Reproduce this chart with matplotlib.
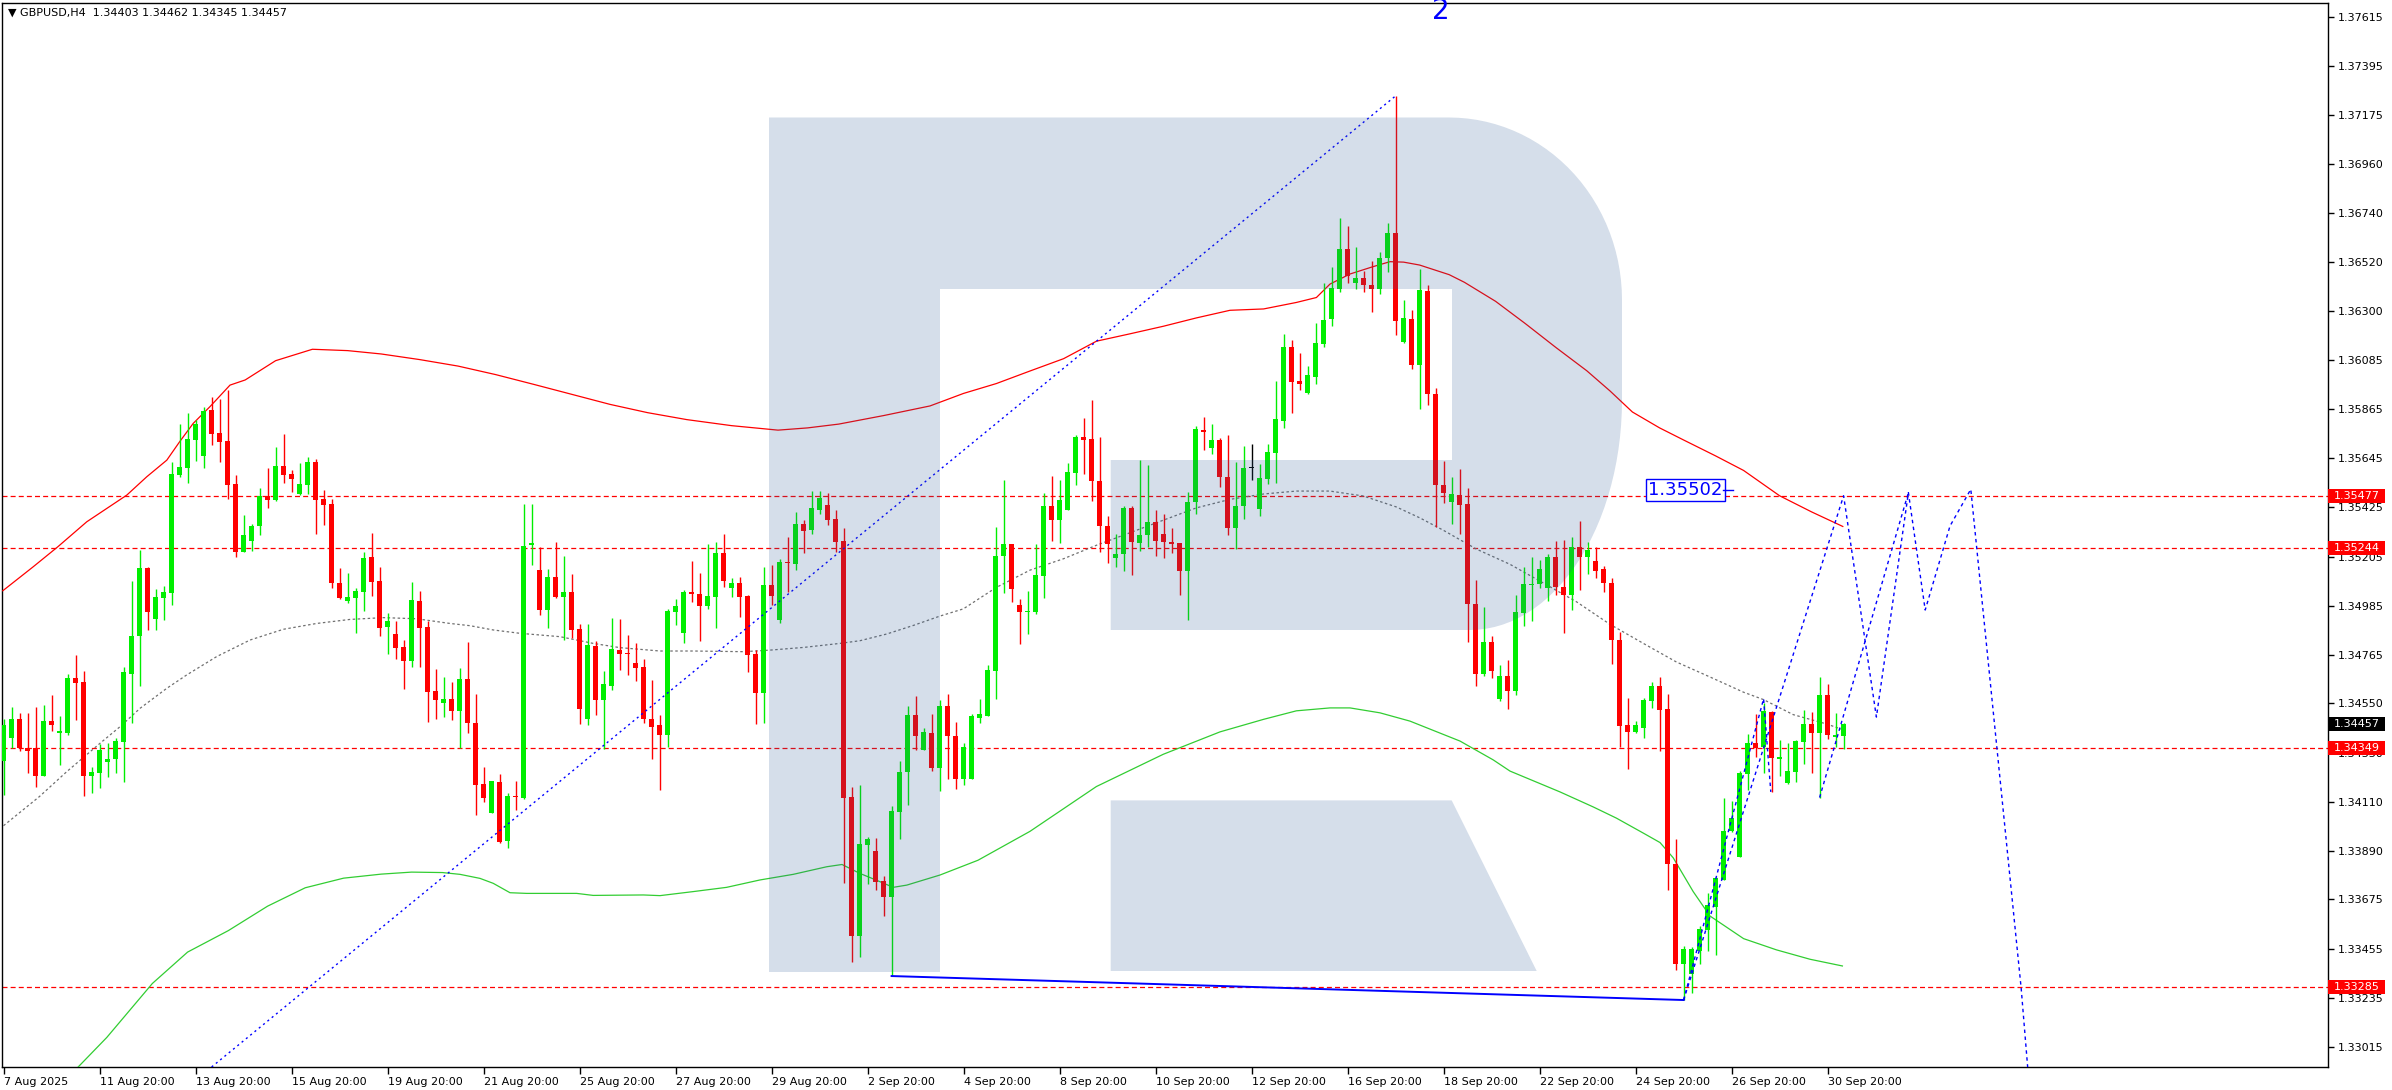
import numpy as np
import matplotlib.pyplot as plt
import matplotlib.transforms as mtransforms
from matplotlib.patches import Polygon, Rectangle

plt.rcParams['font.family'] = ['DejaVu Sans']

W, H = 2392, 1090

# ---- GBPUSD H4 candles (open, high, low, close) ----
opens = [1.34294, 1.34397, 1.34480, 1.34351, 1.34349, 1.34227, 1.34471, 1.34416, 1.34419, 1.34663,
         1.34645, 1.34227, 1.34241, 1.34290, 1.34300, 1.34379, 1.34683, 1.34851, 1.35154, 1.34927,
         1.35022, 1.35044, 1.35571, 1.35602, 1.35726, 1.35654, 1.35860, 1.35759, 1.35721, 1.35529,
         1.35226, 1.35275, 1.35343, 1.35477, 1.35458, 1.35610, 1.35574, 1.35486, 1.35525, 1.35628,
         1.35464, 1.35440, 1.35087, 1.35009, 1.35020, 1.35047, 1.35204, 1.35096, 1.34891, 1.34860,
         1.34802, 1.34741, 1.35007, 1.34891, 1.34605, 1.34553, 1.34570, 1.34518, 1.34659, 1.34462,
         1.34190, 1.34059, 1.34199, 1.33937, 1.34137, 1.34129, 1.35256, 1.35145, 1.34968, 1.35114,
         1.35026, 1.35047, 1.34882, 1.34482, 1.34806, 1.34567, 1.34629, 1.34788, 1.34775, 1.34730,
         1.34712, 1.34480, 1.34453, 1.34410, 1.34959, 1.34864, 1.35047, 1.35038, 1.34986, 1.35026,
         1.35221, 1.35066, 1.35087, 1.35029, 1.34772, 1.34598, 1.35078, 1.34924, 1.35181, 1.35174,
         1.35352, 1.35325, 1.35415, 1.35437, 1.35373, 1.35275, 1.34132, 1.33513, 1.33919, 1.33891,
         1.33757, 1.33687, 1.34067, 1.34244, 1.34498, 1.34343, 1.34418, 1.34263, 1.34539, 1.34406,
         1.34212, 1.34212, 1.34483, 1.34494, 1.34694, 1.35207, 1.35261, 1.34990, 1.34956, 1.34956,
         1.35119, 1.35432, 1.35370, 1.35414, 1.35578, 1.35738, 1.35729, 1.35543, 1.35341, 1.35201,
         1.35216, 1.35423, 1.35267, 1.35301, 1.35358, 1.35305, 1.35272, 1.35265, 1.35141, 1.35447,
         1.35772, 1.35689, 1.35725, 1.35560, 1.35334, 1.35430, 1.35601, 1.35416, 1.35552, 1.35669,
         1.35812, 1.36142, 1.35989, 1.35936, 1.36009, 1.36156, 1.36267, 1.36400, 1.36578, 1.36429,
         1.36451, 1.36420, 1.36398, 1.36538, 1.36649, 1.36162, 1.36267, 1.36060, 1.36390, 1.35930,
         1.35524, 1.35447, 1.35482, 1.35440, 1.34992, 1.34683, 1.34822, 1.34572, 1.34674, 1.34604,
         1.34955, 1.35079, 1.35081, 1.35067, 1.35203, 1.35069, 1.35035, 1.35247, 1.35203, 1.35185,
         1.35148, 1.35087, 1.34832, 1.34454, 1.34424, 1.34441, 1.34563, 1.34627, 1.34525, 1.33833,
         1.33388, 1.33342, 1.33446, 1.33539, 1.33643, 1.33764, 1.33979, 1.33866, 1.34233, 1.34374,
         1.34357, 1.34511, 1.34303, 1.34197, 1.34244, 1.34379, 1.34458, 1.34419, 1.34587, 1.34399,
         1.34403]
highs = [1.34479, 1.34534, 1.34509, 1.34509, 1.34534, 1.34543, 1.34587, 1.34494, 1.34681, 1.34766,
         1.34695, 1.34268, 1.34367, 1.34372, 1.34394, 1.34714, 1.35096, 1.35235, 1.35160, 1.35061,
         1.35074, 1.35628, 1.35799, 1.35846, 1.35815, 1.35873, 1.35919, 1.35909, 1.35949, 1.35568,
         1.35391, 1.35351, 1.35510, 1.35601, 1.35695, 1.35754, 1.35592, 1.35623, 1.35650, 1.35642,
         1.35503, 1.35462, 1.35154, 1.35134, 1.35065, 1.35226, 1.35311, 1.35159, 1.34955, 1.34919,
         1.34833, 1.35093, 1.35053, 1.34919, 1.34705, 1.34669, 1.34647, 1.34710, 1.34826, 1.34593,
         1.34267, 1.34203, 1.34235, 1.34148, 1.34203, 1.35440, 1.35440, 1.35247, 1.35150, 1.35270,
         1.35208, 1.35128, 1.34904, 1.34904, 1.34830, 1.34695, 1.34931, 1.34927, 1.34855, 1.34820,
         1.34748, 1.34654, 1.34498, 1.34971, 1.35016, 1.35056, 1.35187, 1.35132, 1.35263, 1.35272,
         1.35308, 1.35110, 1.35116, 1.35035, 1.34788, 1.35159, 1.35168, 1.35194, 1.35293, 1.35404,
         1.35368, 1.35498, 1.35498, 1.35489, 1.35412, 1.35333, 1.34178, 1.34187, 1.33954, 1.33949,
         1.33781, 1.34092, 1.34293, 1.34538, 1.34583, 1.34441, 1.34502, 1.34565, 1.34590, 1.34468,
         1.34372, 1.34501, 1.34570, 1.34721, 1.35336, 1.35547, 1.35261, 1.35016, 1.35052, 1.35261,
         1.35490, 1.35565, 1.35549, 1.35623, 1.35747, 1.35825, 1.35905, 1.35738, 1.35387, 1.35305,
         1.35432, 1.35432, 1.35636, 1.35614, 1.35414, 1.35394, 1.35334, 1.35265, 1.35492, 1.35787,
         1.35829, 1.35796, 1.35734, 1.35747, 1.35627, 1.35698, 1.35707, 1.35620, 1.35709, 1.35989,
         1.36198, 1.36174, 1.36116, 1.36056, 1.36249, 1.36429, 1.36498, 1.36718, 1.36682, 1.36587,
         1.36482, 1.36524, 1.36564, 1.36695, 1.37262, 1.36353, 1.36307, 1.36489, 1.36420, 1.35960,
         1.35630, 1.35561, 1.35596, 1.35511, 1.35101, 1.34982, 1.34852, 1.34720, 1.34743, 1.35035,
         1.35158, 1.35203, 1.35192, 1.35215, 1.35277, 1.35281, 1.35292, 1.35366, 1.35269, 1.35250,
         1.35163, 1.35111, 1.34871, 1.34575, 1.34473, 1.34573, 1.34647, 1.34668, 1.34590, 1.33947,
         1.33467, 1.33462, 1.33556, 1.33702, 1.33777, 1.34128, 1.34115, 1.34248, 1.34414, 1.34503,
         1.34550, 1.34516, 1.34387, 1.34375, 1.34387, 1.34521, 1.34513, 1.34668, 1.34637, 1.34506,
         1.34462]
lows = [1.34140, 1.34349, 1.34339, 1.34241, 1.34178, 1.34227, 1.34427, 1.34275, 1.34407, 1.34476,
        1.34135, 1.34150, 1.34174, 1.34223, 1.34241, 1.34201, 1.34461, 1.34629, 1.34879, 1.34879,
        1.34924, 1.34989, 1.35559, 1.35535, 1.35634, 1.35601, 1.35705, 1.35629, 1.35461, 1.35205,
        1.35226, 1.35232, 1.35302, 1.35424, 1.35454, 1.35535, 1.35494, 1.35480, 1.35485, 1.35308,
        1.35348, 1.35067, 1.35015, 1.34997, 1.34866, 1.34964, 1.35031, 1.34851, 1.34772, 1.34747,
        1.34616, 1.34714, 1.34714, 1.34468, 1.34480, 1.34491, 1.34476, 1.34349, 1.34416, 1.34053,
        1.34111, 1.34059, 1.33925, 1.33903, 1.34074, 1.34122, 1.35169, 1.34946, 1.34888, 1.35022,
        1.34834, 1.34843, 1.34459, 1.34455, 1.34500, 1.34345, 1.34611, 1.34699, 1.34677, 1.34651,
        1.34464, 1.34303, 1.34165, 1.34357, 1.34901, 1.34821, 1.35004, 1.34830, 1.34973, 1.34888,
        1.35070, 1.35026, 1.34937, 1.34691, 1.34459, 1.34464, 1.34991, 1.34910, 1.35049, 1.35147,
        1.35223, 1.35308, 1.35397, 1.35348, 1.35227, 1.33750, 1.33397, 1.33419, 1.33745, 1.33718,
        1.33602, 1.33333, 1.33946, 1.34098, 1.34343, 1.34343, 1.34250, 1.34160, 1.34212, 1.34168,
        1.34184, 1.34212, 1.34463, 1.34494, 1.34572, 1.35045, 1.35005, 1.34816, 1.34861, 1.34950,
        1.35019, 1.35276, 1.35267, 1.35414, 1.35527, 1.35576, 1.35452, 1.35225, 1.35179, 1.35159,
        1.35141, 1.35125, 1.35232, 1.35250, 1.35210, 1.35199, 1.35221, 1.35032, 1.34923, 1.35394,
        1.35683, 1.35665, 1.35518, 1.35303, 1.35238, 1.35374, 1.35549, 1.35387, 1.35529, 1.35532,
        1.35778, 1.35845, 1.35947, 1.35931, 1.35976, 1.36140, 1.36236, 1.36385, 1.36425, 1.36400,
        1.36387, 1.36296, 1.36378, 1.36478, 1.36196, 1.36158, 1.36045, 1.35863, 1.35880, 1.35339,
        1.35444, 1.35353, 1.35307, 1.34822, 1.34626, 1.34671, 1.34664, 1.34560, 1.34526, 1.34587,
        1.34896, 1.34918, 1.35067, 1.35009, 1.35032, 1.34866, 1.34965, 1.35057, 1.35129, 1.35109,
        1.35047, 1.34728, 1.34357, 1.34259, 1.34419, 1.34395, 1.34531, 1.34338, 1.33719, 1.33358,
        1.33226, 1.33257, 1.33388, 1.33446, 1.33428, 1.33764, 1.33976, 1.33866, 1.34164, 1.34310,
        1.34239, 1.34155, 1.34228, 1.34192, 1.34201, 1.34281, 1.34239, 1.34130, 1.34390, 1.34357,
        1.34345]
closes = [1.34454, 1.34480, 1.34349, 1.34339, 1.34227, 1.34471, 1.34455, 1.34427, 1.34663, 1.34643,
          1.34227, 1.34244, 1.34342, 1.34302, 1.34382, 1.34690, 1.34851, 1.35154, 1.34959, 1.35023,
          1.35047, 1.35574, 1.35604, 1.35729, 1.35799, 1.35855, 1.35754, 1.35718, 1.35526, 1.35226,
          1.35300, 1.35343, 1.35477, 1.35458, 1.35610, 1.35571, 1.35553, 1.35528, 1.35628, 1.35458,
          1.35437, 1.35089, 1.35020, 1.35025, 1.35052, 1.35199, 1.35093, 1.34888, 1.34918, 1.34799,
          1.34741, 1.35012, 1.34888, 1.34602, 1.34567, 1.34570, 1.34518, 1.34659, 1.34461, 1.34187,
          1.34129, 1.34203, 1.33933, 1.34137, 1.34131, 1.35252, 1.35266, 1.34968, 1.35114, 1.35026,
          1.35047, 1.34879, 1.34526, 1.34811, 1.34567, 1.34636, 1.34793, 1.34772, 1.34772, 1.34709,
          1.34482, 1.34446, 1.34410, 1.34962, 1.34985, 1.35047, 1.35040, 1.34986, 1.35029, 1.35221,
          1.35098, 1.35087, 1.35026, 1.34767, 1.34598, 1.35078, 1.35031, 1.35181, 1.35178, 1.35352,
          1.35321, 1.35422, 1.35467, 1.35370, 1.35272, 1.34129, 1.33513, 1.33922, 1.33945, 1.33754,
          1.33687, 1.34070, 1.34244, 1.34498, 1.34406, 1.34422, 1.34263, 1.34538, 1.34406, 1.34212,
          1.34357, 1.34494, 1.34501, 1.34699, 1.35207, 1.35261, 1.35063, 1.34956, 1.34963, 1.35123,
          1.35432, 1.35370, 1.35458, 1.35583, 1.35738, 1.35727, 1.35541, 1.35341, 1.35263, 1.35218,
          1.35423, 1.35272, 1.35301, 1.35358, 1.35276, 1.35270, 1.35261, 1.35141, 1.35450, 1.35774,
          1.35760, 1.35725, 1.35560, 1.35334, 1.35432, 1.35601, 1.35601, 1.35556, 1.35672, 1.35818,
          1.36142, 1.35987, 1.35974, 1.36014, 1.36158, 1.36262, 1.36405, 1.36578, 1.36460, 1.36451,
          1.36416, 1.36398, 1.36538, 1.36649, 1.36256, 1.36271, 1.36060, 1.36396, 1.35930, 1.35524,
          1.35491, 1.35486, 1.35437, 1.34992, 1.34683, 1.34822, 1.34696, 1.34674, 1.34604, 1.34958,
          1.35082, 1.35084, 1.35148, 1.35203, 1.35071, 1.35035, 1.35249, 1.35205, 1.35235, 1.35143,
          1.35086, 1.34834, 1.34449, 1.34424, 1.34453, 1.34567, 1.34627, 1.34521, 1.33834, 1.33388,
          1.33455, 1.33452, 1.33542, 1.33650, 1.33771, 1.33979, 1.34038, 1.34239, 1.34374, 1.34352,
          1.34516, 1.34308, 1.34310, 1.34248, 1.34382, 1.34458, 1.34419, 1.34587, 1.34411, 1.34409,
          1.34457]

# ---- moving averages (bar index, price) ----
red_ma_x = [-0.1, 3.7, 6.8, 10.4, 15.4, 17.9, 20.4, 22.0, 23.7, 25.8, 28.3, 30.2, 34.0, 38.6, 43.0,
            47.2, 52.0, 56.8, 61.5, 66.3, 71.0, 75.8, 80.5, 85.4, 91.0, 96.8, 100.5, 104.4, 110.0,
            115.8, 120, 124.1, 128.3, 132.5, 136.6, 140.8, 145, 149.1, 153.3, 157.5, 161.6, 164.1,
            165.8, 168.3, 171.2, 173.3, 175, 177, 180.7, 182.6, 186.5, 190.2, 194.0, 197.9, 200.8,
            203.6, 207.0, 210, 214.0, 217.5, 222, 226.0, 229.9]
red_ma_y = [1.35053, 1.35160, 1.35250, 1.35361, 1.35480, 1.35562, 1.35636, 1.35718, 1.35800, 1.35875,
            1.35971, 1.35994, 1.36080, 1.36131, 1.36125, 1.36110, 1.36085, 1.36056, 1.36018, 1.35974,
            1.35930, 1.35885, 1.35848, 1.35817, 1.35790, 1.35770, 1.35780, 1.35797, 1.35835, 1.35878,
            1.35934, 1.35978, 1.36034, 1.36089, 1.36167, 1.36200, 1.36234, 1.36271, 1.36305, 1.36311,
            1.36340, 1.36362, 1.36422, 1.36467, 1.36500, 1.36522, 1.36520, 1.36507, 1.36464, 1.36430,
            1.36345, 1.36246, 1.36140, 1.36035, 1.35945, 1.35851, 1.35780, 1.35726, 1.35655, 1.35590,
            1.35477, 1.35405, 1.35340]

gray_ma_x = [-0.5, 4.47, 7.88, 12.05, 14.55, 17.05, 20.38, 22.88, 26.63, 30.8, 34.97, 39.13, 43.3,
             47.47, 51.63, 55.8, 58.3, 61.2, 64.55, 69.55, 73.7, 77.05, 82.05, 86.2, 92.5, 95.8,
             100.0, 104.55, 107.05, 110.4, 113.7, 117.05, 119.96, 124.1, 128.3, 132.5, 136.6, 140.8,
             144.96, 149.1, 153.3, 157.5, 161.6, 165.8, 169.97, 174.1, 177.05, 179.97, 184.1, 188.3,
             192.5, 196.6, 200.8, 204.97, 209.1, 213.3, 217.5, 220, 223.7, 227.9, 229.97]
gray_ma_y = [1.33990, 1.34134, 1.34245, 1.34372, 1.34446, 1.34528, 1.34617, 1.34677, 1.34759, 1.34833,
             1.34881, 1.34907, 1.34925, 1.34933, 1.34928, 1.34907, 1.34897, 1.34878, 1.34863, 1.34848,
             1.34818, 1.34799, 1.34784, 1.34784, 1.34781, 1.34788, 1.34800, 1.34818, 1.34830, 1.34860,
             1.34898, 1.34940, 1.34972, 1.35068, 1.35145, 1.35196, 1.35256, 1.35312, 1.35368, 1.35423,
             1.35461, 1.35485, 1.35498, 1.35498, 1.35476, 1.35427, 1.35378, 1.35323, 1.35239, 1.35171,
             1.35087, 1.35004, 1.34903, 1.34818, 1.34735, 1.34668, 1.34600, 1.34567, 1.34500, 1.34458,
             1.34432]

green_ma_x = [7.5, 12.9, 18.6, 23.0, 28.1, 33.0, 37.7, 42.5, 47.2, 51.0, 54.85, 57.05, 59.55, 61.2,
              63.3, 65.38, 71.63, 73.7, 79.97, 82.05, 86.2, 90.38, 94.55, 98.7, 102.9, 104.8, 107.05,
              109.1, 111.2, 112.9, 117.05, 121.8, 128.3, 136.6, 144.96, 152.05, 157.5, 161.6, 165.8,
              168.3, 172.05, 175.8, 182.05, 186.2, 188.3, 194.55, 198.7, 201.6, 204.97, 207.05, 208.7,
              211.2, 213.3, 217.5, 221.6, 225.8, 229.85]
green_ma_y = [1.32860, 1.33059, 1.33300, 1.33440, 1.33536, 1.33645, 1.33727, 1.33770, 1.33788, 1.33797,
              1.33795, 1.33787, 1.33769, 1.33747, 1.33705, 1.33702, 1.33702, 1.33693, 1.33695, 1.33692,
              1.33710, 1.33729, 1.33762, 1.33787, 1.33821, 1.33831, 1.33791, 1.33761, 1.33729, 1.33739,
              1.33784, 1.33850, 1.33979, 1.34179, 1.34323, 1.34423, 1.34479, 1.34517, 1.34530, 1.34530,
              1.34508, 1.34471, 1.34382, 1.34298, 1.34248, 1.34155, 1.34088, 1.34038, 1.33971, 1.33929,
              1.33861, 1.33710, 1.33601, 1.33500, 1.33450, 1.33408, 1.33378]

# ---- drawn objects ----
levels = [1.35477, 1.35244, 1.34349, 1.33285]
trend_x = [26.0, 174.0]
trend_y = [1.32927, 1.37262]
support_x = [111, 210]
support_y = [1.33333, 1.33226]
# main forecast path
fc1_x = [210, 230, 234.1, 238.1, 240.2, 243.3, 245.9, 252.2, 253.3]
fc1_y = [1.33226, 1.35477, 1.34489, 1.35491, 1.34967, 1.35342, 1.35506, 1.33277, 1.3280]
# short first swing
fc0_x = [210, 220, 220.9]
fc0_y = [1.33226, 1.34571, 1.34155]
# later re-drawn swing
fc2_x = [227, 238.1]
fc2_y = [1.34130, 1.35491]
target = 1.35502
last_price = 1.34457

yticks = [1.37615, 1.37395, 1.37175, 1.36960, 1.36740, 1.36520, 1.36300, 1.36085, 1.35865, 1.35645,
          1.35425, 1.35205, 1.34985, 1.34765, 1.34550, 1.34330, 1.34110, 1.33890, 1.33675, 1.33455,
          1.33235, 1.33015]
xtick_pos = list(range(0, 229, 12))
xtick_labels = ['7 Aug 2025', '11 Aug 20:00', '13 Aug 20:00', '15 Aug 20:00', '19 Aug 20:00',
                '21 Aug 20:00', '25 Aug 20:00', '27 Aug 20:00', '29 Aug 20:00', '2 Sep 20:00',
                '4 Sep 20:00', '8 Sep 20:00', '10 Sep 20:00', '12 Sep 20:00', '16 Sep 20:00',
                '18 Sep 20:00', '22 Sep 20:00', '24 Sep 20:00', '26 Sep 20:00', '30 Sep 20:00']

GREEN = '#00ee00'
RED = '#ff0000'

fig = plt.figure(figsize=(W / 100, H / 100), dpi=100)
fig.patch.set_facecolor('white')
ax = fig.add_axes([2 / W, 23 / H, 2326 / W, 1064.5 / H])
ax.set_xlim(-0.2, 290.55)
ax.set_ylim(1.32927, 1.37679)

o = np.array(opens); hi = np.array(highs); lo = np.array(lows); c = np.array(closes)
x = np.arange(len(o))
cols = np.where(c > o, GREEN, np.where(c < o, RED, 'black'))
px = (1.37679 - 1.32927) / 1064.5
ax.vlines(x, lo, hi, colors=cols, lw=1.0, zorder=4)
body_lo = np.minimum(o, c)
body_h = np.maximum(np.abs(c - o), px)
ax.bar(x, body_h, width=0.62, bottom=body_lo, color=cols, linewidth=0, zorder=5)

ax.plot(red_ma_x, red_ma_y, color='#ff0000', lw=0.9, zorder=3)
ax.plot(gray_ma_x, gray_ma_y, color='#707070', lw=0.9, ls=(0, (2, 2)), zorder=3)
ax.plot(green_ma_x, green_ma_y, color='#32cd32', lw=0.9, zorder=3)

for lv in levels:
    ax.axhline(lv, color=RED, lw=0.9, ls=(0, (4, 2.5)), zorder=2)

ax.plot(trend_x, trend_y, color='#0000ff', lw=1.0, ls=(0, (1.5, 2.5)), zorder=6)
ax.plot(support_x, support_y, color='#0000ff', lw=1.4, zorder=6)
for fx, fy in ((fc0_x, fc0_y), (fc1_x, fc1_y), (fc2_x, fc2_y)):
    ax.plot(fx, fy, color='#0000ff', lw=1.0, ls=(0, (2.5, 2.5)), zorder=6)

ax.text(205.6, target, f'{target:.5f}', color='#0000ff', fontsize=13, va='center', ha='left',
        bbox=dict(boxstyle='square,pad=0.12', fc='white', ec='#0000ff', lw=1.0), zorder=7)
ax.plot([214.9, 216.2], [target, target], color='#0000ff', lw=1.0, zorder=7)
ax.text(179.6, 1.37641, '2', color='#0000ff', fontsize=20, ha='center', va='center', zorder=7)

# watermark logo drawn over the chart, semi transparent (image pixel geometry)
def fpx(pts):
    return [(X / W, 1 - Y / H) for X, Y in pts]

t = np.linspace(0, np.pi / 2, 30)
top_arc = [(1449 + 173 * np.sin(a), 300 - 182.5 * np.cos(a)) for a in t]
bot_arc = [(1470 + 152 * np.cos(a), 400 + 230 * np.sin(a)) for a in t]
logo_body = ([(769, 117.5)] + top_arc + bot_arc +
             [(1110.7, 630), (1110.7, 460), (1452, 460), (1452, 289), (940, 289), (940, 972), (769, 972)])
logo_leg = [(1110.7, 800.4), (1451.7, 800.4), (1536.7, 971), (1110.7, 971)]
for pts in (logo_body, logo_leg):
    ax.add_patch(Polygon(fpx(pts), closed=True, transform=fig.transFigure, facecolor='#2d5a96',
                         edgecolor='none', alpha=0.2, zorder=10))

# axes and ticks
for sp in ax.spines.values():
    sp.set_color('black'); sp.set_linewidth(1.0)
ax.yaxis.tick_right()
ax.set_yticks(yticks)
ax.set_yticklabels([f'{t:.5f}' for t in yticks])
ax.set_xticks(xtick_pos)
ax.set_xticklabels(xtick_labels, ha='left')
ax.tick_params(axis='y', direction='out', length=4, width=1, labelsize=8, pad=3)
ax.tick_params(axis='x', direction='out', length=5, width=1, labelsize=8, pad=2)

blend = mtransforms.blended_transform_factory(ax.transAxes, ax.transData)
for lv, fc in [(1.35477, RED), (1.35244, RED), (1.34349, RED), (1.33285, RED), (last_price, 'black')]:
    ax.add_patch(Rectangle((1.0, lv - 7 * px), 57 / 2326, 14 * px, transform=blend, facecolor=fc,
                           edgecolor='none', clip_on=False, zorder=20))
    ax.text(1.0 + 6 / 2326, lv, f'{lv:.5f}', transform=blend, color='white', fontsize=8,
            va='center', ha='left', clip_on=False, zorder=21)

fig.text(8 / W, 1 - 13 / H, '\u25bc GBPUSD,H4  1.34403 1.34462 1.34345 1.34457', fontsize=8,
         va='center', ha='left')

fig.savefig('out.png', dpi=100)
